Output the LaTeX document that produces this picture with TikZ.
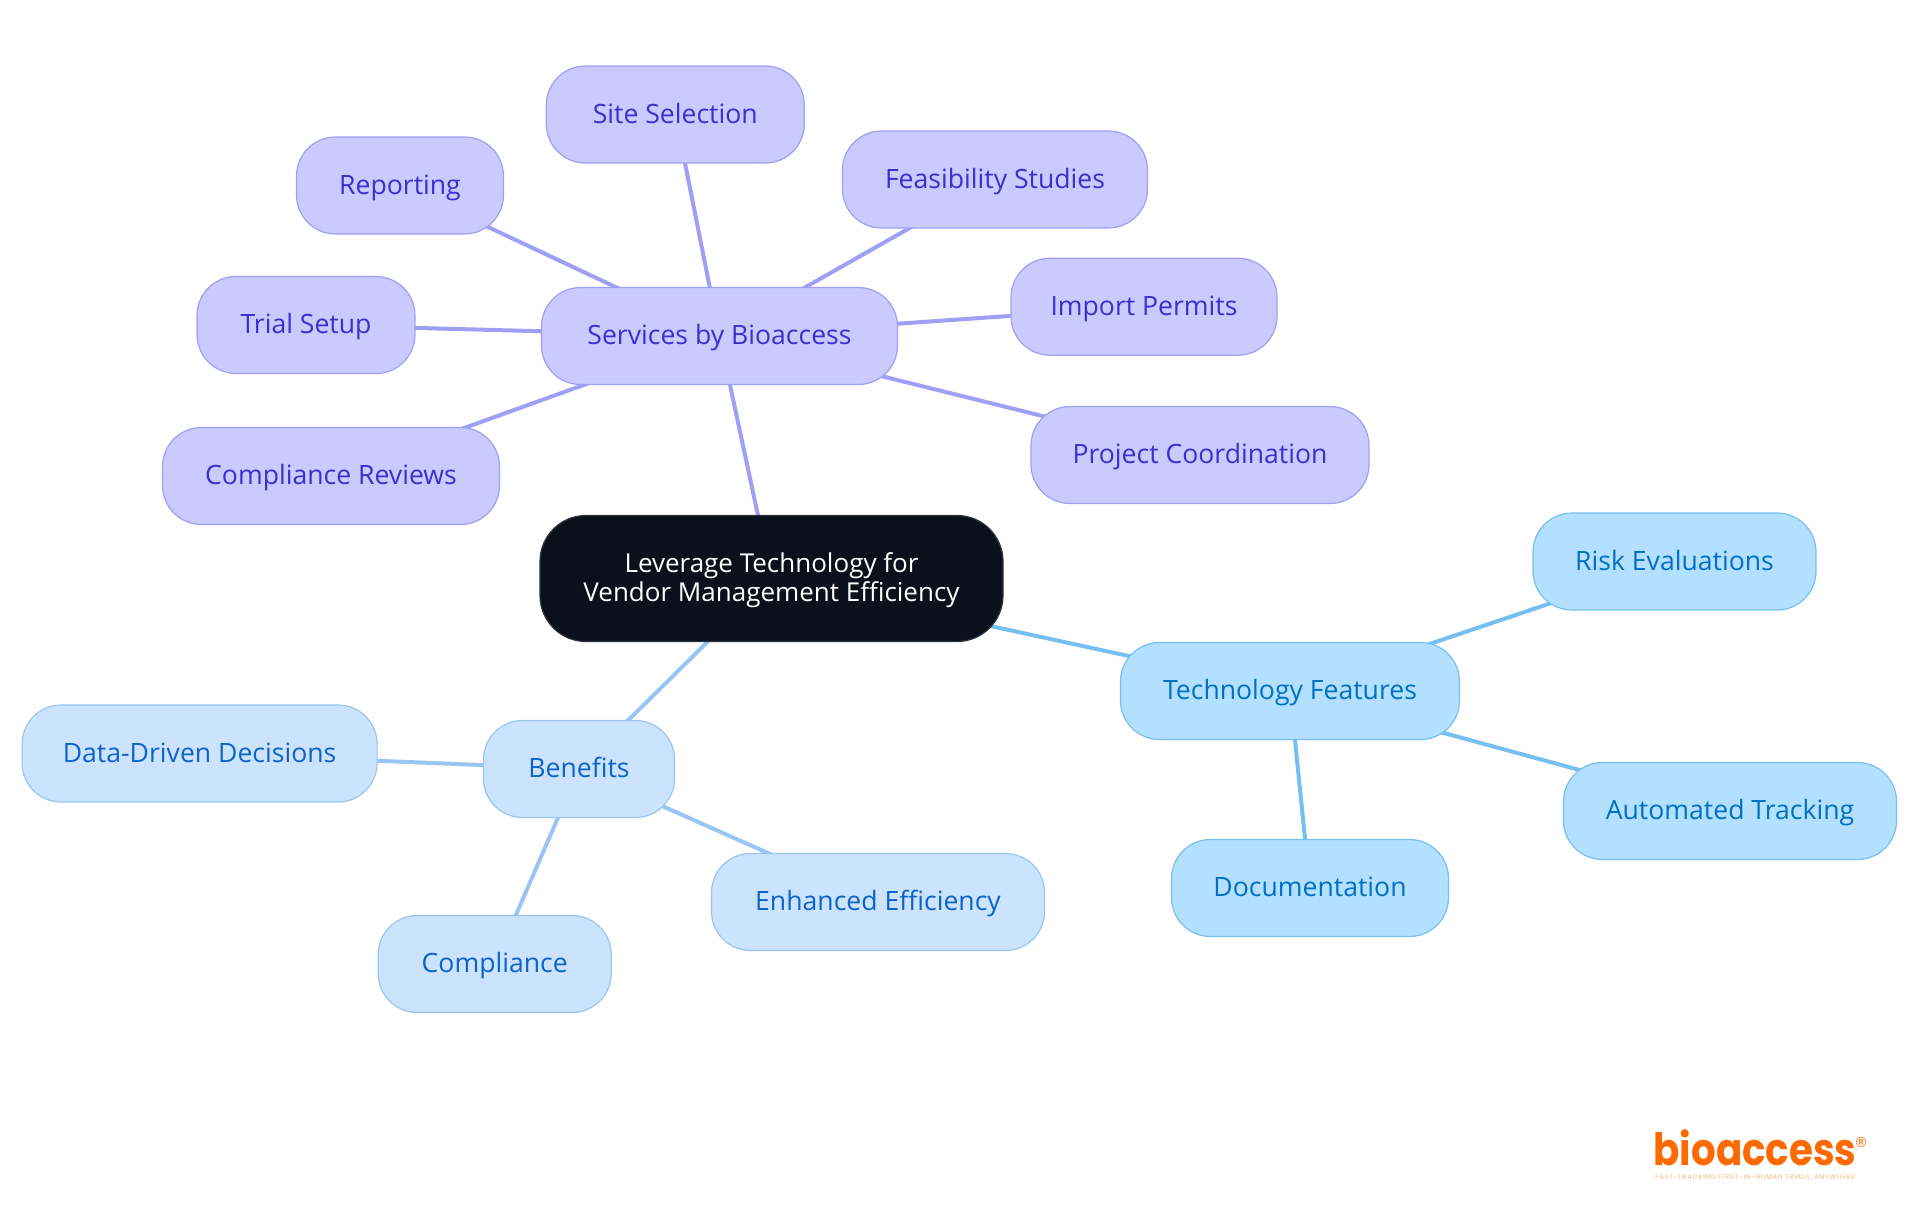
\documentclass[tikz,border=0pt]{standalone}
\usepackage{fontspec}
\setmainfont{Open Sans}
\newfontfamily\logofont{Poppins}
\newfontfamily\tagfont[LetterSpace=12]{Poppins}
\newfontfamily\markfont{DejaVu Sans}
\usetikzlibrary{backgrounds}
\definecolor{rootfill}{HTML}{0B111A}
\definecolor{rootline}{HTML}{2E333B}
\definecolor{purplefill}{HTML}{CACAFF}
\definecolor{purpleline}{HTML}{9F9FF5}
\definecolor{purpletext}{HTML}{3A2FD0}
\definecolor{skyfill}{HTML}{B3E0FF}
\definecolor{skyline}{HTML}{76BFF2}
\definecolor{skytext}{HTML}{0070C4}
\definecolor{palefill}{HTML}{CCE3FD}
\definecolor{paleline}{HTML}{99C5F2}
\definecolor{paletext}{HTML}{0D63CC}
\definecolor{logoorange}{HTML}{FF6A00}
\definecolor{tagorange}{HTML}{FFB27A}

\tikzset{
	x=0.5pt, y=-0.5pt,
	box/.style={draw, rounded corners=19.5pt, line width=0.6pt, minimum height=48.5pt,
		inner sep=0pt, font=\fontsize{13.3}{14.7}\selectfont, align=center},
	root/.style={box, fill=rootfill, draw=rootline, text=white, minimum height=63pt, rounded corners=23pt,
		font=\fontsize{13}{14.7}\selectfont},
	servicebox/.style={box, fill=purplefill, draw=purpleline, text=purpletext, text height=12pt, text depth=3.2pt},
	techbox/.style={box, fill=skyfill, draw=skyline, text=skytext, text height=12pt, text depth=3.2pt},
	benefitbox/.style={box, fill=palefill, draw=paleline, text=paletext, text height=12pt, text depth=3.2pt},
	serviceedge/.style={draw=purpleline, line width=2pt},
	techedge/.style={draw=skyline, line width=2pt},
	benefitedge/.style={draw=paleline, line width=2pt}
}

\begin{document}
\begin{tikzpicture}

	\useasboundingbox (0,0) rectangle (1920,1215);

	% Centre node
	\node[root, minimum width=231.5pt] (leverage) at (771.5,578.5) {\rule{0pt}{11.6pt}Leverage Technology for\\Vendor Management Efficiency};

	% Services branch
	\node[servicebox, minimum width=178pt] (services) at (719.5,336) {Services by Bioaccess};
	\node[servicebox, minimum width=129pt] (site) at (675.3,114.5) {Site Selection};
	\node[servicebox, minimum width=103.5pt] (reporting) at (400,185.5) {Reporting};
	\node[servicebox, minimum width=152.5pt] (feasibility) at (995,179.5) {Feasibility Studies};
	\node[servicebox, minimum width=109pt] (trial) at (306,325) {Trial Setup};
	\node[servicebox, minimum width=133pt] (permits) at (1144,306.7) {Import Permits};
	\node[servicebox, minimum width=168.5pt] (reviews) at (331,476) {Compliance Reviews};
	\node[servicebox, minimum width=169pt] (coordination) at (1200,455) {Project Coordination};

	% Technology branch
	\node[techbox, minimum width=169.5pt] (technology) at (1290,691) {Technology Features};
	\node[techbox, minimum width=141.5pt] (risk) at (1674.5,561.5) {Risk Evaluations};
	\node[techbox, minimum width=166.5pt] (tracking) at (1730,811) {Automated Tracking};
	\node[techbox, minimum width=138.5pt] (documentation) at (1310,888) {Documentation};

	% Benefits branch
	\node[benefitbox, minimum width=95.5pt] (benefits) at (579,769) {Benefits};
	\node[benefitbox, minimum width=177.5pt] (decisions) at (199.6,753.5) {Data-Driven Decisions};
	\node[benefitbox, minimum width=166.5pt] (efficiency) at (878,902) {Enhanced Efficiency};
	\node[benefitbox, minimum width=116.5pt] (compliance) at (494.7,964) {Compliance};

	% Connectors run centre to centre behind the boxes
	\begin{scope}[on background layer]
		\draw[serviceedge] (leverage.center) -- (services.center);
		\foreach \leaf in {site, reporting, feasibility, trial, permits, reviews, coordination}
			\draw[serviceedge] (services.center) -- (\leaf.center);
		\draw[techedge] (leverage.center) -- (technology.center);
		\foreach \leaf in {risk, tracking, documentation}
			\draw[techedge] (technology.center) -- (\leaf.center);
		\draw[benefitedge] (leverage.center) -- (benefits.center);
		\foreach \leaf in {decisions, efficiency, compliance}
			\draw[benefitedge] (benefits.center) -- (\leaf.center);
	\end{scope}

	% Logo
	\node[anchor=base, inner sep=0pt, text=logoorange, font=\logofont\bfseries\fontsize{19.4}{20}\selectfont] (logo) at (1755,1165) {\scalebox{1}[1.15]{bioaccess}};
	\node[inner sep=0pt, text=tagorange, font=\tagfont\fontsize{3.3}{4}\selectfont] (tagline) at (1755,1178) {FAST-TRACKING FIRST-IN-HUMAN TRIALS, ANYWHERE};
	\node[inner sep=0pt, text=logoorange, font=\markfont\fontsize{7}{7}\selectfont] (mark) at (1861,1142) {®};

\end{tikzpicture}
\end{document}
